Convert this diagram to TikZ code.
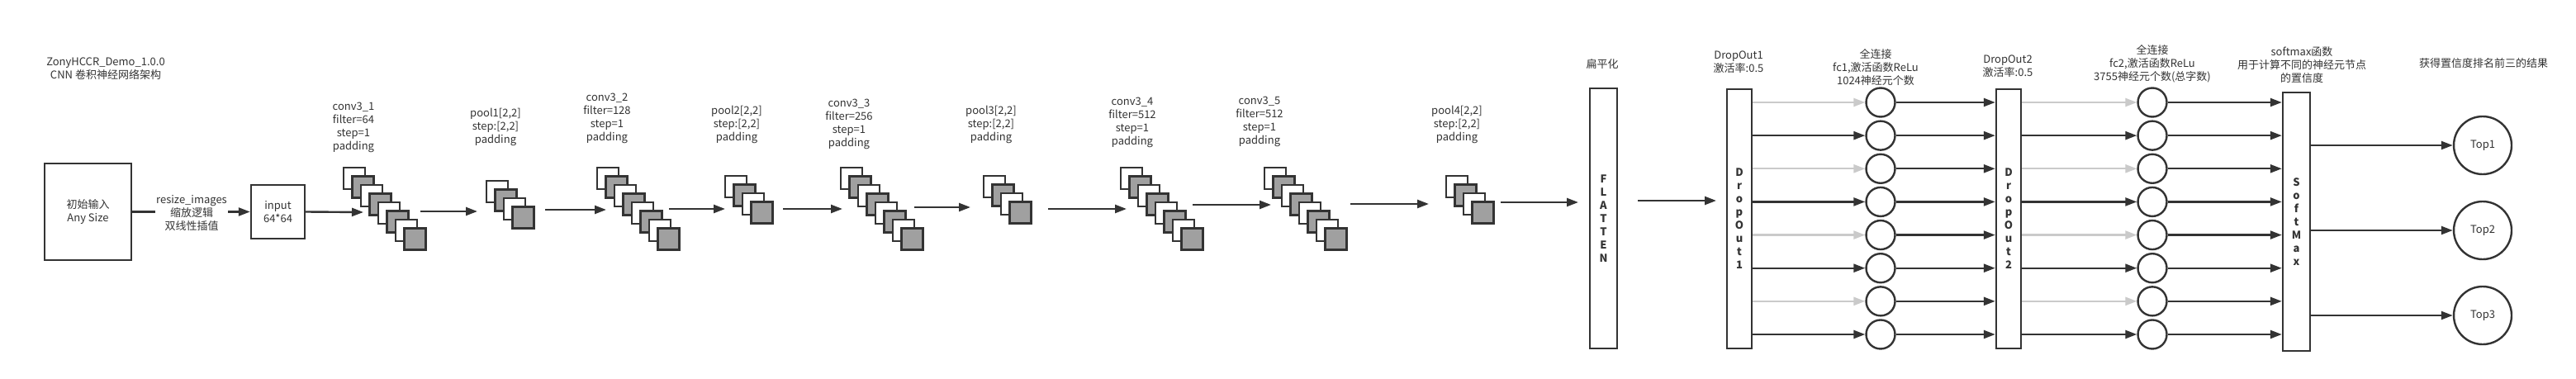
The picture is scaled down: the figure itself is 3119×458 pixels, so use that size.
\documentclass[tikz,border=0pt]{standalone}
\usepackage{fontspec}
\setmainfont{Noto Sans CJK SC}
\usepackage{tikz}
\usetikzlibrary{calc,arrows.meta,math}

\definecolor{linegray}{HTML}{333333}
\definecolor{fillgray}{HTML}{A0A0A0}
\definecolor{dropgray}{HTML}{CACACA}

\tikzset{
	box/.style={draw=linegray, line width=2.4pt, fill=white, inner sep=0pt},
	sq/.style={box, minimum size=26pt},
	neuron/.style={draw=linegray, line width=2.4pt, circle, inner sep=0pt, minimum size=35pt},
	txt/.style={align=center, text=linegray, inner sep=1pt, font=\fontsize{13}{16}\selectfont},
	vtxt/.style={align=center, text=linegray, font=\fontsize{13}{16}\selectfont\bfseries},
	flow/.style={draw=linegray, line width=2.4pt, -{Triangle[length=14pt,width=10pt]}},
	drop/.style={flow, draw=dropgray},
}

% #1 name, #2/#3 top left corner, #4 number of maps
\newcommand\layerstack[4]{%
	\foreach \k in {1,...,#4}{
		\pgfmathsetmacro\sx{#2+13+(\k-1)*10.5}
		\pgfmathsetmacro\sy{#3+13+(\k-1)*10.5}
		\ifodd\k \def\sqfill{white}\else \def\sqfill{fillgray}\fi
		\node[sq, fill=\sqfill] (#1-\k) at (\sx,\sy) {};
	}%
}

\begin{document}
\begin{tikzpicture}[x=1pt,y=-1pt]
	\useasboundingbox[fill=white] (0,0) rectangle (3119,458);
	\def\rowgap{40.14}

	\node[txt] (title) at (128,83) {ZonyHCCR\_Demo\_1.0.0\\CNN 卷积神经网络架构};

	% input part
	\node[box, txt, minimum width=105pt, minimum height=117pt] (init) at (106.5,256.5) {初始输入\\Any Size};
	\node[txt] (resize) at (232,258) {resize\_images\\缩放逻辑\\双线性插值};
	\node[box, txt, minimum width=65pt, minimum height=65pt] (input) at (336.5,256.5) {input\\64*64};
	\draw[draw=linegray, line width=2.4pt] (init.east) -- (resize.west |- init.east);
	\draw[flow] (resize.east |- init.east) -- (input.west);

	% convolution and pooling
	\layerstack{conv1}{416}{203}{8}
	\layerstack{pool1}{589}{219}{4}
	\layerstack{conv2}{723}{203}{8}
	\layerstack{pool2}{878}{213}{4}
	\layerstack{conv3}{1018}{203}{8}
	\layerstack{pool3}{1191}{213}{4}
	\layerstack{conv4}{1357}{203}{8}
	\layerstack{conv5}{1531}{203}{8}
	\layerstack{pool4}{1751}{213}{4}

	\node[txt] (conv1lbl) at (428,154) {conv3\_1\\filter=64\\step=1\\padding};
	\node[txt] (pool1lbl) at (600,153.5) {pool1[2,2]\\step:[2,2]\\padding};
	\node[txt] (conv2lbl) at (735,143.5) {conv3\_2\\filter=128\\step=1\\padding};
	\node[txt] (pool2lbl) at (892,151) {pool2[2,2]\\step:[2,2]\\padding};
	\node[txt] (conv3lbl) at (1028,150.5) {conv3\_3\\filter=256\\step=1\\padding};
	\node[txt] (pool3lbl) at (1200,151) {pool3[2,2]\\step:[2,2]\\padding};
	\node[txt] (conv4lbl) at (1371,148.5) {conv3\_4\\filter=512\\step=1\\padding};
	\node[txt] (conv5lbl) at (1525,147.5) {conv3\_5\\filter=512\\step=1\\padding};
	\node[txt] (pool4lbl) at (1764,151) {pool4[2,2]\\step:[2,2]\\padding};

	\path (440,257) coordinate (conv1in);
	\path (509,256) coordinate (conv1out);
	\path (578,256) coordinate (pool1in);
	\path (660,254) coordinate (pool1out);
	\path (734,254) coordinate (conv2in);
	\path (810,253) coordinate (conv2out);
	\path (878,253) coordinate (pool2in);
	\path (948,253) coordinate (pool2out);
	\path (1020,253) coordinate (conv3in);
	\path (1107,251) coordinate (conv3out);
	\path (1175,251) coordinate (pool3in);
	\path (1269,253) coordinate (pool3out);
	\path (1364,253) coordinate (conv4in);
	\path (1444,248) coordinate (conv4out);
	\path (1539,248) coordinate (conv5in);
	\path (1635,247) coordinate (conv5out);
	\path (1730,247) coordinate (pool4in);
	\path (1817,245) coordinate (pool4out);
	\path (1911,245) coordinate (flatin);
	\path (1983,243) coordinate (flatout);
	\path (2078,243) coordinate (drop1in);

	\draw[flow] (input.east) -- (conv1in);
	\foreach \a/\b in {conv1out/pool1in, pool1out/conv2in, conv2out/pool2in, pool2out/conv3in,
		conv3out/pool3in, pool3out/conv4in, conv4out/conv5in, conv5out/pool4in, pool4out/flatin, flatout/drop1in}
		\draw[flow] (\a) -- (\b);

	% fully connected part
	\node[box, vtxt, minimum width=33pt, minimum height=315pt] (flat) at (1941.5,264.5) {F\\L\\A\\T\\T\\E\\N};
	\node[txt] (flatlbl) at (1940,78) {扁平化};
	\node[box, vtxt, minimum width=30pt, minimum height=314pt] (drop1) at (2106,265) {D\\r\\o\\p\\O\\u\\t\\1};
	\node[txt] (drop1lbl) at (2105,75.5) {DropOut1\\激活率:0.5};
	\node[box, vtxt, minimum width=30pt, minimum height=314pt] (drop2) at (2432,265) {D\\r\\o\\p\\O\\u\\t\\2};
	\node[txt] (drop2lbl) at (2431,80.5) {DropOut2\\激活率:0.5};
	\node[box, vtxt, minimum width=33pt, minimum height=313pt] (soft) at (2780.5,268.5) {S\\o\\f\\t\\M\\a\\x};
	\node[txt] (softlbl) at (2787,78.5) {softmax函数\\用于计算不同的神经元节点\\的置信度};
	\node[txt] (fc1lbl) at (2271,82) {全连接\\fc1,激活函数ReLu\\1024神经元个数};
	\node[txt] (fc2lbl) at (2606,77.5) {全连接\\fc2,激活函数ReLu\\3755神经元个数(总字数)};

	\foreach \i in {1,...,8}{
		\pgfmathsetmacro\ry{124+\rowgap*(\i-1)}
		\node[neuron] (fca\i) at (2277,\ry) {};
		\node[neuron] (fcb\i) at (2606,\ry) {};
		\ifodd\i \def\rowstyle{drop}\else \def\rowstyle{flow}\fi
		\draw[\rowstyle] (fca\i.west -| drop1.east) -- (fca\i.west);
		\draw[flow] (fca\i.east) -- (fca\i.east -| drop2.west);
		\draw[\rowstyle] (fcb\i.west -| drop2.east) -- (fcb\i.west);
		\draw[flow] (fcb\i.east) -- (fcb\i.east -| soft.west);
	}

	% results
	\node[txt] (toplbl) at (3007,77) {获得置信度排名前三的结果};
	\node[neuron, txt, minimum size=70pt] (top1) at (3006,176) {Top1};
	\node[neuron, txt, minimum size=70pt] (top2) at (3006,279) {Top2};
	\node[neuron, txt, minimum size=70pt] (top3) at (3006,382) {Top3};
	\foreach \t in {top1,top2,top3}
		\draw[flow] (soft.east |- \t.west) -- (\t.west);
\end{tikzpicture}
\end{document}
